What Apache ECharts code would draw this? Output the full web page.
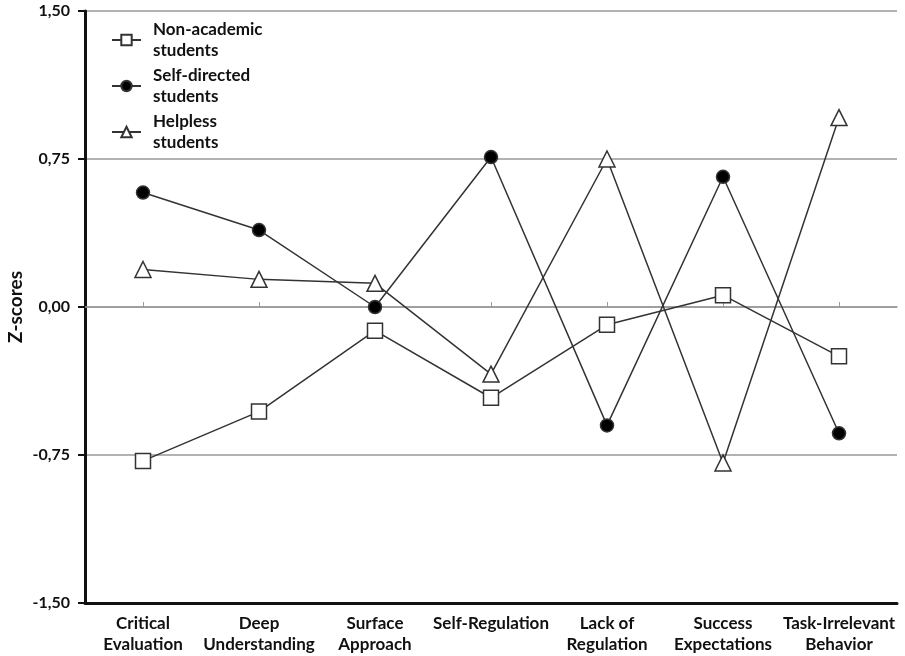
<!DOCTYPE html>
<html>
<head>
<meta charset="utf-8">
<script src="https://cdn.jsdelivr.net/npm/echarts@6/dist/echarts.min.js"></script>
<style>
html,body{margin:0;padding:0;background:#fff;}
#chart{width:905px;height:656px;}
</style>
</head>
<body>
<div id="chart"></div>
<script>
const categories = ["Critical\nEvaluation","Deep\nUnderstanding","Surface\nApproach","Self-Regulation","Lack of\nRegulation","Success\nExpectations","Task-Irrelevant\nBehavior"];
const nonAcademic = [-0.78,-0.53,-0.12,-0.46,-0.09,0.06,-0.25];
const selfDirected = [0.58,0.39,0.00,0.76,-0.60,0.66,-0.64];
const helpless = [0.19,0.14,0.12,-0.34,0.75,-0.79,0.96];
const seriesNames = ["Non-academic\nstudents","Self-directed\nstudents","Helpless\nstudents"];
const yTicks = [-1.5,-0.75,0,0.75,1.5];

const FONT = "Lato";
const chart = echarts.init(document.getElementById('chart'));
const lineStyle = {color:'#333', width:1.5};
function mk(name, data, symbol, size, fill){
  return {
    name, type:'line', data, symbol, symbolSize:size, xAxisIndex:0,
    lineStyle, itemStyle:{color:fill, borderColor:'#333', borderWidth:1.5},
    showAllSymbol:true, animation:false
  };
}
chart.setOption({
  backgroundColor:'#fff',
  animation:false,
  grid:{left:85,right:8,top:11,bottom:53,containLabel:false,outerBoundsMode:'none'},
  legend:{
    left:111, top:19, orient:'vertical', itemGap:4, padding:0,
    itemWidth:29, itemHeight:13,
    textStyle:{fontFamily:FONT,fontWeight:'bold',fontSize:17,color:'#111',lineHeight:21,padding:[0,0,0,7]},
    data:seriesNames
  },
  xAxis:[{
    type:'category', data:categories, position:'bottom',
    axisLine:{onZero:false, lineStyle:{color:'#111',width:3}},
    axisTick:{show:false},
    axisLabel:{fontFamily:FONT,fontWeight:'bold',fontSize:17,color:'#111',lineHeight:21,margin:10,interval:0}
  },{
    type:'category', data:categories, position:'top',
    axisLine:{onZero:true, lineStyle:{color:'#999',width:1.5}},
    axisTick:{show:true, alignWithLabel:true, inside:false, length:5, lineStyle:{color:'#999'}},
    axisLabel:{show:false}
  }],
  yAxis:{
    type:'value', min:-1.5, max:1.5, interval:0.75,
    name:'Z-scores', nameLocation:'middle', nameGap:60, nameRotate:90, nameMoveOverlap:false,
    nameTextStyle:{fontFamily:FONT,fontWeight:'bold',fontSize:19,color:'#111'},
    axisLine:{show:true, lineStyle:{color:'#111',width:3}},
    axisTick:{show:true, length:7, lineStyle:{color:'#111',width:2}},
    axisLabel:{fontFamily:FONT,fontWeight:'bold',fontSize:16,color:'#111',margin:15,
      formatter:v=>v.toFixed(2).replace('.',',')},
    splitLine:{show:true, lineStyle:{color:'#999',width:1.5}}
  },
  series:[
    mk(seriesNames[0], nonAcademic, 'rect', 15, '#fff'),
    mk(seriesNames[1], selfDirected, 'circle', 13, '#000'),
    mk(seriesNames[2], helpless, 'triangle', 16, '#fff')
  ]
});
</script>
</body>
</html>
